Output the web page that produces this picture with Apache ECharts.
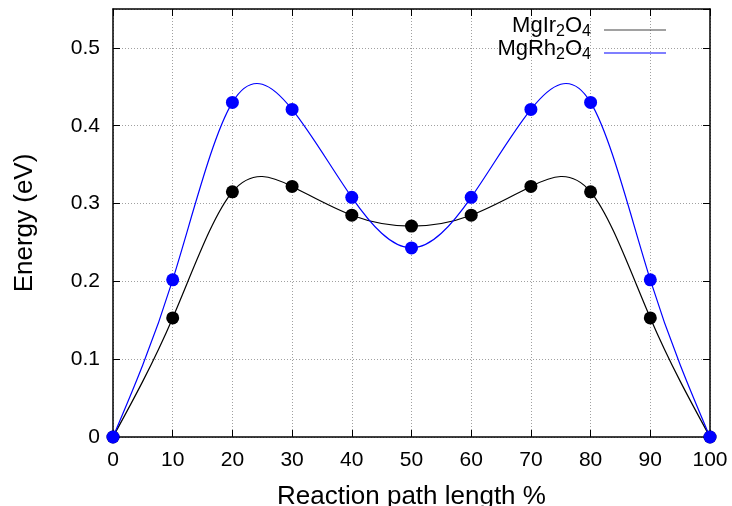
<!DOCTYPE html>
<html>
<head>
<meta charset="utf-8">
<script src="https://cdn.jsdelivr.net/npm/echarts@6/dist/echarts.min.js"></script>
<style>
html,body{margin:0;padding:0;background:#fff;}
#chart{width:732px;height:506px;}
</style>
</head>
<body>
<div id="chart"></div>
<script>
// Reaction path (%) and energies (eV)
var pathPct = [0, 10, 20, 30, 40, 50, 60, 70, 80, 90, 100];
var mgIr2O4 = [0, 0.153, 0.315, 0.322, 0.285, 0.271, 0.285, 0.322, 0.315, 0.153, 0];
var mgRh2O4 = [0, 0.202, 0.430, 0.421, 0.308, 0.243, 0.308, 0.421, 0.430, 0.202, 0];
var seriesNames = ['MgIr2O4', 'MgRh2O4'];
var legendRich = {
  'MgIr2O4': '{n|MgIr}{s|2}{n|O}{s|4}',
  'MgRh2O4': '{n|MgRh}{s|2}{n|O}{s|4}'
};

function pairs(xs, ys) { return xs.map(function (x, i) { return [x, ys[i]]; }); }

// Natural cubic spline (like gnuplot "smooth csplines") expressed as cubic Bezier
// control points in data space; drawn through the axis scales with api.coord.
function splineSegments(xs, ys) {
  var n = xs.length, i;
  var h = [], a = [], b = [], c = [], d = [], M = new Array(n).fill(0);
  for (i = 0; i < n - 1; i++) h.push(xs[i + 1] - xs[i]);
  var m = n - 2;
  for (i = 1; i <= m; i++) {
    a.push(h[i - 1]);
    b.push(2 * (h[i - 1] + h[i]));
    c.push(h[i]);
    d.push(6 * ((ys[i + 1] - ys[i]) / h[i] - (ys[i] - ys[i - 1]) / h[i - 1]));
  }
  for (i = 1; i < m; i++) {
    var w = a[i] / b[i - 1];
    b[i] -= w * c[i - 1];
    d[i] -= w * d[i - 1];
  }
  var sol = new Array(m);
  sol[m - 1] = d[m - 1] / b[m - 1];
  for (i = m - 2; i >= 0; i--) sol[i] = (d[i] - c[i] * sol[i + 1]) / b[i];
  for (i = 0; i < m; i++) M[i + 1] = sol[i];
  var segs = [];
  for (i = 0; i < n - 1; i++) {
    var hi = h[i];
    var slope = (ys[i + 1] - ys[i]) / hi;
    var d0 = slope - hi * (2 * M[i] + M[i + 1]) / 6;
    var d1 = slope + hi * (M[i] + 2 * M[i + 1]) / 6;
    segs.push([
      [xs[i], ys[i]],
      [xs[i] + hi / 3, ys[i] + d0 * hi / 3],
      [xs[i + 1] - hi / 3, ys[i + 1] - d1 * hi / 3],
      [xs[i + 1], ys[i + 1]]
    ]);
  }
  return segs;
}

function curveSeries(name, ys, color, z) {
  var segs = splineSegments(pathPct, ys);
  return {
    name: name,
    type: 'custom',
    xAxisIndex: 0, yAxisIndex: 0,
    data: pairs(pathPct, ys),
    color: color,
    itemStyle: { color: color, borderColor: color },
    silent: true,
    z: z,
    renderItem: function (params, api) {
      if (params.dataIndex !== 0) return null;
      var path = '';
      segs.forEach(function (s, k) {
        var p0 = api.coord(s[0]), p1 = api.coord(s[1]), p2 = api.coord(s[2]), p3 = api.coord(s[3]);
        if (k === 0) path += 'M' + p0[0] + ',' + p0[1];
        path += 'C' + p1[0] + ',' + p1[1] + ' ' + p2[0] + ',' + p2[1] + ' ' + p3[0] + ',' + p3[1];
      });
      return {
        type: 'path',
        shape: { pathData: path },
        style: { fill: null, stroke: color, lineWidth: 1.2 }
      };
    }
  };
}

function markerSeries(name, ys, color, z) {
  return {
    name: name,
    type: 'scatter',
    xAxisIndex: 0, yAxisIndex: 0,
    data: pairs(pathPct, ys),
    symbol: 'circle',
    symbolSize: 13,
    color: color,
    itemStyle: { color: color, opacity: 1 },
    emphasis: { disabled: true },
    z: z
  };
}

var FONT = '"Liberation Sans", Arial, Helvetica, sans-serif';
var chart = echarts.init(document.getElementById('chart'));

function makeLegend(name, top, color) {
  return {
    data: [{ name: name, itemStyle: { color: color, borderColor: color, borderWidth: 0, opacity: 1 } }],
    right: 66,
    top: top,
    orient: 'vertical',
    align: 'right',
    icon: 'rect',
    itemWidth: 62,
    itemHeight: 1.2,
    padding: 0,
    selectedMode: false,
    itemStyle: { color: color, borderColor: color, borderWidth: 0 },
    formatter: function (n) { return legendRich[n]; },
    textStyle: {
      color: '#000',
      fontFamily: FONT,
      padding: [0, 8, 8, 0],
      rich: {
        n: { fontSize: 22, fontFamily: FONT, color: '#000', lineHeight: 22 },
        s: { fontSize: 16, fontFamily: FONT, color: '#000', lineHeight: 22, padding: [12, 0, 0, 0] }
      }
    }
  };
}

var xCommon = { type: 'value', min: 0, max: 100, interval: 10 };
var yCommon = { type: 'value', min: 0, max: 0.55, interval: 0.1 };

chart.setOption({
  animation: false,
  backgroundColor: '#fff',
  grid: { left: 113, right: 22, top: 9, bottom: 69, containLabel: false, outerBoundsMode: 'none' },
  legend: [makeLegend(seriesNames[0], 12, '#444'), makeLegend(seriesNames[1], 35, '#0000ff')],
  xAxis: [
    Object.assign({}, xCommon, {
      position: 'bottom',
      name: 'Reaction path length %',
      nameLocation: 'middle',
      nameGap: 47,
      nameTextStyle: { fontSize: 26, fontFamily: FONT, color: '#000' },
      axisLine: { show: true, onZero: false, lineStyle: { color: '#000', width: 1.5 } },
      axisTick: { show: true, inside: true, length: 7, lineStyle: { color: '#000', width: 1 } },
      axisLabel: { fontSize: 21, fontFamily: FONT, color: '#000', margin: 13 },
      splitLine: { show: true, lineStyle: { color: '#a0a0a0', width: 1, type: [1, 2] } }
    }),
    Object.assign({}, xCommon, {
      position: 'top',
      axisLine: { show: true, onZero: false, lineStyle: { color: '#000', width: 1.5 } },
      axisTick: { show: true, inside: true, length: 7, lineStyle: { color: '#000', width: 1 } },
      axisLabel: { show: false },
      splitLine: { show: false }
    })
  ],
  yAxis: [
    Object.assign({}, yCommon, {
      position: 'left',
      name: 'Energy (eV)',
      nameLocation: 'middle',
      nameGap: 75,
      nameRotate: 90,
      nameTextStyle: { fontSize: 26, fontFamily: FONT, color: '#000' },
      axisLine: { show: true, onZero: false, lineStyle: { color: '#000', width: 1.5 } },
      axisTick: { show: true, inside: true, length: 7, lineStyle: { color: '#000', width: 1 } },
      axisLabel: { fontSize: 21, fontFamily: FONT, color: '#000', margin: 13, showMaxLabel: false },
      splitLine: { show: true, lineStyle: { color: '#a0a0a0', width: 1, type: [1, 2] } }
    }),
    Object.assign({}, yCommon, {
      position: 'right',
      axisLine: { show: true, onZero: false, lineStyle: { color: '#000', width: 1.5 } },
      axisTick: { show: true, inside: true, length: 7, lineStyle: { color: '#000', width: 1 } },
      axisLabel: { show: false },
      splitLine: { show: false }
    })
  ],
  series: [
    curveSeries(seriesNames[0], mgIr2O4, '#000000', 2),
    markerSeries(seriesNames[0], mgIr2O4, '#000000', 3),
    curveSeries(seriesNames[1], mgRh2O4, '#0000ff', 4),
    markerSeries(seriesNames[1], mgRh2O4, '#0000ff', 5)
  ]
});
</script>
</body>
</html>
